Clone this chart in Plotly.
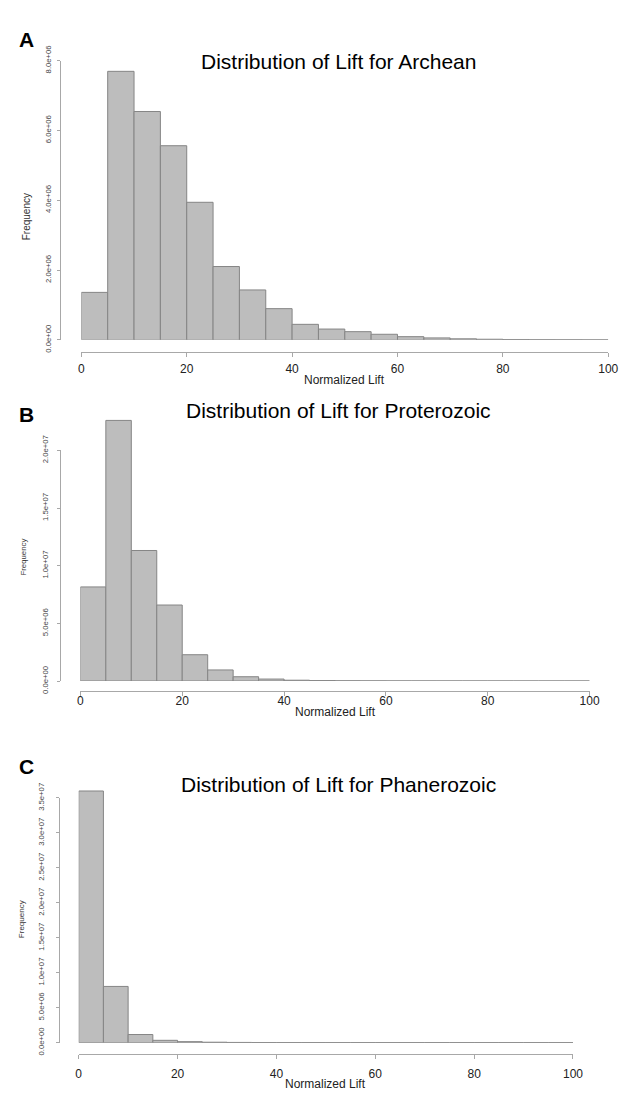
import plotly.graph_objects as go

# ---------------- data ----------------
BIN_STARTS = [0, 5, 10, 15, 20, 25, 30, 35, 40, 45, 50, 55, 60, 65, 70, 75, 80, 85, 90, 95]
BIN_WIDTH = 5

ARCHEAN = [1.36e6, 7.69e6, 6.54e6, 5.56e6, 3.94e6, 2.10e6, 1.43e6, 0.894e6, 0.445e6, 0.31e6,
           0.235e6, 0.16e6, 0.092e6, 0.056e6, 0.03e6, 0.018e6, 0.011e6, 0.007e6, 0.005e6, 0.003e6]
PROTEROZOIC = [8.16e6, 2.26e7, 1.132e7, 6.59e6, 2.28e6, 0.96e6, 0.37e6, 0.17e6, 0.07e6, 0.035e6,
               0.018e6, 0.01e6, 0.006e6, 0.004e6, 0.003e6, 0.002e6, 0.0015e6, 0.001e6, 0.001e6, 0.001e6]
PHANEROZOIC = [3.60e7, 8.04e6, 1.16e6, 0.33e6, 0.14e6, 0.06e6, 0.03e6, 0.016e6, 0.009e6, 0.006e6,
               0.004e6, 0.003e6, 0.002e6, 0.002e6, 0.001e6, 0.001e6, 0.001e6, 0.001e6, 0.001e6, 0.001e6]

TITLES = ["Distribution of Lift for Archean",
          "Distribution of Lift for Proterozoic",
          "Distribution of Lift for Phanerozoic"]
PANEL_LETTERS = ["A", "B", "C"]
X_TITLE = "Normalized Lift"
Y_TITLE = "Frequency"

X_TICKS = [0, 20, 40, 60, 80, 100]
X_TICK_LABELS = ["0", "20", "40", "60", "80", "100"]

Y_TICKS_A = [0, 2e6, 4e6, 6e6, 8e6]
Y_TICK_LABELS_A = ["0.0e+00", "2.0e+06", "4.0e+06", "6.0e+06", "8.0e+06"]
Y_TICKS_B = [0, 5e6, 1e7, 1.5e7, 2e7]
Y_TICK_LABELS_B = ["0.0e+00", "5.0e+06", "1.0e+07", "1.5e+07", "2.0e+07"]
Y_TICKS_C = [0, 5e6, 1e7, 1.5e7, 2e7, 2.5e7, 3e7, 3.5e7]
Y_TICK_LABELS_C = ["0.0e+00", "5.0e+06", "1.0e+07", "1.5e+07", "2.0e+07", "2.5e+07", "3.0e+07", "3.5e+07"]

SERIES = [ARCHEAN, PROTEROZOIC, PHANEROZOIC]
Y_TICKS = [Y_TICKS_A, Y_TICKS_B, Y_TICKS_C]
Y_TICK_LABELS = [Y_TICK_LABELS_A, Y_TICK_LABELS_B, Y_TICK_LABELS_C]

# ---------------- layout (pixels) ----------------
W, H = 630, 1107
FONT = "Liberation Sans, Arial, Helvetica, sans-serif"
AXIS_COLOR = "#a8a8a8"
TICK_TEXT = "#444444"
BAR_FILL = "#bdbdbd"
BAR_EDGE = "#858585"

PANELS = [
    dict(x0=80, x1=618, base=333.3, ttop=46.7, k=1.0, yline=58.5, xline=345.5,
         xstand=2, ystand=3, title_y=47.5, letter_y=25.5, xtitle_y=374, ytitle_x=24, ytitle_size=10,
         ytitle_y=207),
    dict(x0=79, x1=599, base=683.3, ttop=446.7, k=1.2, yline=58.3, xline=693.5,
         xstand=-5, ystand=6, title_y=405.5, letter_y=409.5, xtitle_y=715, ytitle_x=21, ytitle_size=7.8,
         ytitle_y=556),
    dict(x0=77.3, x1=582, base=1054.3, ttop=803.3, k=1.06, yline=57, xline=1065.5,
         xstand=5, ystand=9, title_y=789.5, letter_y=771.5, xtitle_y=1097, ytitle_x=19, ytitle_size=8,
         ytitle_y=928),
]
TITLE_X = 343

fig = go.Figure()
layout = dict(width=W, height=H, margin=dict(l=0, r=0, t=0, b=0),
              paper_bgcolor="white", plot_bgcolor="rgba(0,0,0,0)", showlegend=False,
              font=dict(family=FONT, color="black"))
annotations = []

for i, (vals, p) in enumerate(zip(SERIES, PANELS), start=1):
    yt, ytl = Y_TICKS[i - 1], Y_TICK_LABELS[i - 1]
    tmax = yt[-1]
    fig.add_trace(go.Bar(
        x=BIN_STARTS, y=vals, width=BIN_WIDTH, offset=0,
        marker=dict(color=BAR_FILL, line=dict(color=BAR_EDGE, width=1)),
        xaxis=f"x{i}", yaxis=f"y{i}", hoverinfo="x+y"))
    fig.add_trace(go.Scatter(x=[None], y=[None], xaxis=f"x{i}", yaxis=f"y{i+3}",
                             hoverinfo="skip", mode="markers"))

    top_px = p["base"] - (p["base"] - p["ttop"]) * p["k"]
    layout[f"xaxis{i}"] = dict(
        domain=[p["x0"] / W, p["x1"] / W], range=[0, 100], anchor="free",
        position=1 - p["xline"] / H, showline=True, linecolor=AXIS_COLOR, linewidth=1,
        ticks="outside", ticklen=4, tickcolor=AXIS_COLOR, tickwidth=1,
        tickvals=X_TICKS, ticktext=X_TICK_LABELS, ticklabelstandoff=p["xstand"],
        tickfont=dict(size=12, color="#222222", family=FONT),
        showgrid=False, zeroline=False, fixedrange=True)
    layout[f"yaxis{i}"] = dict(
        domain=[1 - p["base"] / H, 1 - top_px / H], range=[0, tmax * p["k"]],
        anchor=f"x{i}", visible=False, showgrid=False, zeroline=False, fixedrange=True)
    layout[f"yaxis{i+3}"] = dict(
        domain=[1 - p["base"] / H, 1 - p["ttop"] / H], range=[0, tmax],
        anchor="free", position=p["yline"] / W, showline=True, linecolor=AXIS_COLOR,
        linewidth=1, ticks="outside", ticklen=3, tickcolor=AXIS_COLOR, tickwidth=1,
        tickvals=yt, ticktext=ytl, tickangle=-90, ticklabelstandoff=p["ystand"],
        tickfont=dict(size=7.7, color=TICK_TEXT, family=FONT),
        showgrid=False, zeroline=False, fixedrange=True)

    annotations.append(dict(text=TITLES[i - 1], x=TITLE_X / W, y=1 - p["title_y"] / H,
                            xref="paper", yref="paper", showarrow=False,
                            xanchor="center", yanchor="middle",
                            font=dict(size=21, color="black", family=FONT)))
    annotations.append(dict(text=f"<b>{PANEL_LETTERS[i - 1]}</b>", x=24.5 / W, y=1 - p["letter_y"] / H,
                            xref="paper", yref="paper", showarrow=False,
                            xanchor="center", yanchor="middle",
                            font=dict(size=21, color="black", family=FONT)))
    annotations.append(dict(text=X_TITLE, x=((p["x0"] + p["x1"]) / 2) / W, y=1 - p["xtitle_y"] / H,
                            xref="paper", yref="paper", showarrow=False,
                            xanchor="center", yanchor="middle",
                            font=dict(size=12, color="#222222", family=FONT)))
    annotations.append(dict(text=Y_TITLE, x=p["ytitle_x"] / W, y=1 - p["ytitle_y"] / H,
                            xref="paper", yref="paper", showarrow=False, textangle=-90,
                            xanchor="center", yanchor="middle",
                            font=dict(size=p["ytitle_size"], color="#333333", family=FONT)))

layout["annotations"] = annotations
fig.update_layout(**layout)
fig.write_html("out.html", config={"displayModeBar": False},
               post_script="document.body.style.margin='0';document.body.style.overflow='hidden';")
